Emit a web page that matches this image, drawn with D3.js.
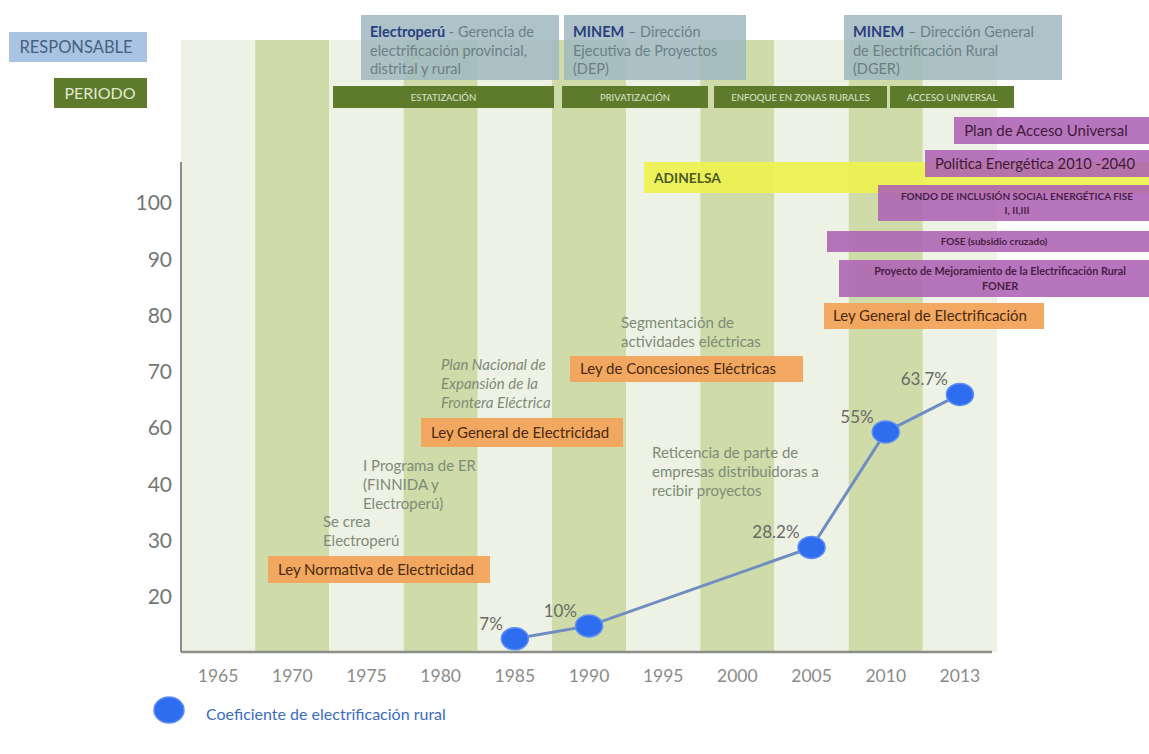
<!DOCTYPE html>
<html>
<head>
<meta charset="utf-8">
<script src="https://cdn.jsdelivr.net/npm/d3@7"></script>
<style>
  html, body { margin: 0; padding: 0; background: #ffffff; }
  svg { display: block; font-family: Lato, "Open Sans", sans-serif; }
</style>
</head>
<body>
<svg id="chart" width="1149" height="754"></svg>
<script>
// ---- Data -------------------------------------------------------------
// Five-year periods shown as alternating columns along the time axis
const years = ["1965", "1970", "1975", "1980", "1985", "1990", "1995", "2000", "2005", "2010", "2013"];
// Vertical axis labels as printed on the slide
const yTickLabels = ["100", "90", "80", "70", "60", "40", "30", "20"];

// Rural electrification coefficient (%)
const pointYears = ["1985", "1990", "2005", "2010", "2013"];
const coefficient = [7, 10, 28.2, 55, 63.7];
const coefficientLabels = ["7%", "10%", "28.2%", "55%", "63.7%"];

// Institutions in charge
const responsableHeads = ["Electroperú", "MINEM", "MINEM"];
const responsableLines = [
  [" - Gerencia de", "electrificación provincial,", "distrital y rural"],
  [" – Dirección", "Ejecutiva de Proyectos", "(DEP)"],
  [" – Dirección General", "de Electrificación Rural", "(DGER)"]
];

// Policy periods
const periodos = ["ESTATIZACIÓN", "PRIVATIZACIÓN", "ENFOQUE EN ZONAS RURALES", "ACCESO UNIVERSAL"];

// Programs and funds
const programas = [
  ["Plan de Acceso Universal"],
  ["Política Energética 2010 -2040"],
  ["FONDO DE INCLUSIÓN SOCIAL  ENERGÉTICA FISE", "I, II,III"],
  ["FOSE (subsidio cruzado)"],
  ["Proyecto de Mejoramiento de la Electrificación Rural", "FONER"]
];
const empresa = "ADINELSA";

// Laws
const leyes = [
  "Ley Normativa de Electricidad",
  "Ley General de Electricidad",
  "Ley de Concesiones Eléctricas",
  "Ley General de Electrificación"
];

// Milestones
const hitos = [
  ["Se crea", "Electroperú"],
  ["I Programa de ER", "(FINNIDA y", "Electroperú)"],
  ["Plan Nacional de", "Expansión de la", "Frontera Eléctrica"],
  ["Segmentación de", "actividades eléctricas"],
  ["Reticencia de parte de", "empresas distribuidoras a", "recibir proyectos"]
];

const legendLabel = "Coeficiente de electrificación rural";

// ---- Scales -------------------------------------------------------------
const svg = d3.select("#chart");
const plotLeft = 181, plotRight = 997, plotBottom = 652, bandTop = 40;

const x = d3.scaleBand().domain(years).range([plotLeft, plotRight]).padding(0);
const yTicks = d3.scalePoint().domain(yTickLabels).range([203, 597]);
const y = d3.scaleLinear().domain([0, 100]).range([669, 238]);

// ---- Background columns ------------------------------------------------
svg.append("g").selectAll("rect")
  .data(years)
  .join("rect")
  .attr("x", d => x(d))
  .attr("y", bandTop)
  .attr("width", x.bandwidth())
  .attr("height", plotBottom - bandTop)
  .attr("fill", (d, i) => i % 2 === 0 ? "#eef2e4" : "#cfdba9");

// ---- Axes ---------------------------------------------------------------
const axisColor = "#8c8f88";
svg.append("line")
  .attr("x1", plotLeft).attr("x2", plotLeft)
  .attr("y1", 162).attr("y2", plotBottom)
  .attr("stroke", axisColor).attr("stroke-width", 2);
svg.append("line")
  .attr("x1", plotLeft).attr("x2", 992)
  .attr("y1", plotBottom).attr("y2", plotBottom)
  .attr("stroke", axisColor).attr("stroke-width", 2.5);

const yAxis = svg.append("g")
  .attr("transform", `translate(${plotLeft - 9},0)`)
  .call(d3.axisLeft(yTicks).tickSize(0).tickPadding(0));
yAxis.select(".domain").remove();
yAxis.selectAll("text")
  .attr("font-family", "Lato, sans-serif")
  .attr("font-size", 21)
  .attr("fill", "#747772");

const xAxis = svg.append("g")
  .attr("transform", `translate(0,${plotBottom})`)
  .call(d3.axisBottom(x).tickSize(0).tickPadding(18));
xAxis.select(".domain").remove();
xAxis.selectAll("text")
  .attr("font-family", "Lato, sans-serif")
  .attr("font-size", 17.5)
  .attr("fill", "#8a8c88");

// ---- Header labels -----------------------------------------------------
svg.append("rect").attr("x", 9).attr("y", 32).attr("width", 138).attr("height", 30).attr("fill", "#a9c3e2");
svg.append("text").attr("x", 76).attr("y", 53).attr("text-anchor", "middle")
  .attr("font-size", 16.5).attr("fill", "#46607e").text("RESPONSABLE");

svg.append("rect").attr("x", 54).attr("y", 78).attr("width", 93).attr("height", 30).attr("fill", "#5e7b2c");
svg.append("text").attr("x", 100).attr("y", 99).attr("text-anchor", "middle")
  .attr("font-size", 16).attr("fill", "#e4e9d3").text("PERIODO");

// ---- Institutions in charge -------------------------------------------
const respBoxes = [
  { x: 361, w: 198 },
  { x: 564, w: 182 },
  { x: 844, w: 218 }
];
const respG = svg.append("g");
respBoxes.forEach((b, i) => {
  respG.append("rect")
    .attr("x", b.x).attr("y", 15).attr("width", b.w).attr("height", 65)
    .attr("fill", "#9fb8bf").attr("opacity", 0.85);
  const t = respG.append("text").attr("font-size", 14.5).attr("fill", "#6b7f87");
  responsableLines[i].forEach((line, j) => {
    const ts = t.append("tspan").attr("x", b.x + 9).attr("y", 37 + j * 18.5);
    if (j === 0) {
      ts.append("tspan").attr("font-weight", 700).attr("fill", "#2b3e7e").text(responsableHeads[i]);
      ts.append("tspan").text(line);
    } else {
      ts.text(line);
    }
  });
});

// ---- Policy periods ----------------------------------------------------
const periodBoxes = [
  { x: 333, w: 221 },
  { x: 562, w: 146 },
  { x: 714, w: 173 },
  { x: 890, w: 124 }
];
const perG = svg.append("g");
periodos.forEach((p, i) => {
  const b = periodBoxes[i];
  perG.append("rect").attr("x", b.x).attr("y", 86).attr("width", b.w).attr("height", 22)
    .attr("fill", "#5e7b2c");
  perG.append("text").attr("x", b.x + b.w / 2).attr("y", 100.5).attr("text-anchor", "middle")
    .attr("font-size", 9.5).attr("fill", "#dfe5cf").text(p);
});

// ---- ADINELSA band -----------------------------------------------------
svg.append("rect").attr("x", 644).attr("y", 162).attr("width", 505).attr("height", 31)
  .attr("fill", "#eef24f").attr("opacity", 0.92);
svg.append("text").attr("x", 654).attr("y", 182.5).attr("font-size", 13.8).attr("font-weight", 700)
  .attr("fill", "#4c5a1f").text(empresa);

// ---- Programs and funds ------------------------------------------------
const progBoxes = [
  { x: 954, y: 117, w: 195, h: 27, cx: 1046, fs: 15, bold: false, ly: [136] },
  { x: 925, y: 150, w: 224, h: 27, cx: 1035, fs: 14.7, bold: false, ly: [168.5] },
  { x: 878, y: 185, w: 271, h: 36, cx: 1017, fs: 10, bold: true, ly: [200, 214] },
  { x: 827, y: 231, w: 322, h: 21, cx: 994, fs: 10, bold: true, ly: [245] },
  { x: 839, y: 260, w: 310, h: 37, cx: 1000, fs: 10.8, bold: true, ly: [275, 290] }
];
const progG = svg.append("g");
programas.forEach((lines, i) => {
  const b = progBoxes[i];
  progG.append("rect").attr("x", b.x).attr("y", b.y).attr("width", b.w).attr("height", b.h)
    .attr("fill", "#ad62b4").attr("opacity", 0.88);
  lines.forEach((line, j) => {
    progG.append("text").attr("x", b.cx).attr("y", b.ly[j]).attr("text-anchor", "middle")
      .attr("font-size", b.fs).attr("font-weight", b.bold ? 700 : 400)
      .attr("fill", b.bold ? "#4a1d45" : "#3e1a38").text(line);
  });
});

// ---- Laws ---------------------------------------------------------------
const lawBoxes = [
  { x: 268, y: 556, w: 222, h: 27, tx: 278 },
  { x: 421, y: 418, w: 202, h: 29, tx: 431 },
  { x: 570, y: 356, w: 233, h: 26, tx: 580 },
  { x: 824, y: 303, w: 220, h: 26, tx: 833 }
];
const lawG = svg.append("g");
leyes.forEach((l, i) => {
  const b = lawBoxes[i];
  lawG.append("rect").attr("x", b.x).attr("y", b.y).attr("width", b.w).attr("height", b.h)
    .attr("fill", "#f2a45b").attr("opacity", 0.95);
  lawG.append("text").attr("x", b.tx).attr("y", b.y + b.h / 2 + 5)
    .attr("font-size", 15).attr("fill", "#4a2a0c").text(l);
});

// ---- Milestones ---------------------------------------------------------
const hitoPos = [
  { x: 323, y: 527, italic: false },
  { x: 363, y: 471, italic: false },
  { x: 441, y: 370, italic: true },
  { x: 621, y: 328, italic: false },
  { x: 652, y: 458, italic: false }
];
const hitoG = svg.append("g");
hitos.forEach((lines, i) => {
  const p = hitoPos[i];
  const t = hitoG.append("text").attr("font-size", 15).attr("fill", "#7d8b78")
    .attr("font-style", p.italic ? "italic" : "normal");
  lines.forEach((line, j) => {
    t.append("tspan").attr("x", p.x).attr("y", p.y + j * 19).text(line);
  });
});

// ---- Coefficient line and points ---------------------------------------
const series = pointYears.map((yr, i) => ({ year: yr, value: coefficient[i], label: coefficientLabels[i] }));
const cx = d => x(d.year) + x.bandwidth() / 2;

svg.append("path")
  .datum(series)
  .attr("d", d3.line().x(cx).y(d => y(d.value)))
  .attr("fill", "none")
  .attr("stroke", "#6e8dc0")
  .attr("stroke-width", 3);

svg.append("g").selectAll("ellipse")
  .data(series)
  .join("ellipse")
  .attr("cx", cx)
  .attr("cy", d => y(d.value))
  .attr("rx", 13.5)
  .attr("ry", 11)
  .attr("fill", "#2e6cf0")
  .attr("stroke", "#5d8ef4")
  .attr("stroke-width", 1.5);

svg.append("g").selectAll("text")
  .data(series)
  .join("text")
  .attr("x", d => cx(d) - 12)
  .attr("y", d => y(d.value) - 9)
  .attr("text-anchor", "end")
  .attr("font-size", 17)
  .attr("fill", "#676a66")
  .text(d => d.label);

// ---- Legend -------------------------------------------------------------
svg.append("ellipse").attr("cx", 169).attr("cy", 710).attr("rx", 15).attr("ry", 13)
  .attr("fill", "#2e6cf0").attr("stroke", "#5d8ef4").attr("stroke-width", 1.5);
svg.append("text").attr("x", 206).attr("y", 720).attr("font-size", 16)
  .attr("fill", "#3c6bbf").text(legendLabel);
</script>
</body>
</html>
